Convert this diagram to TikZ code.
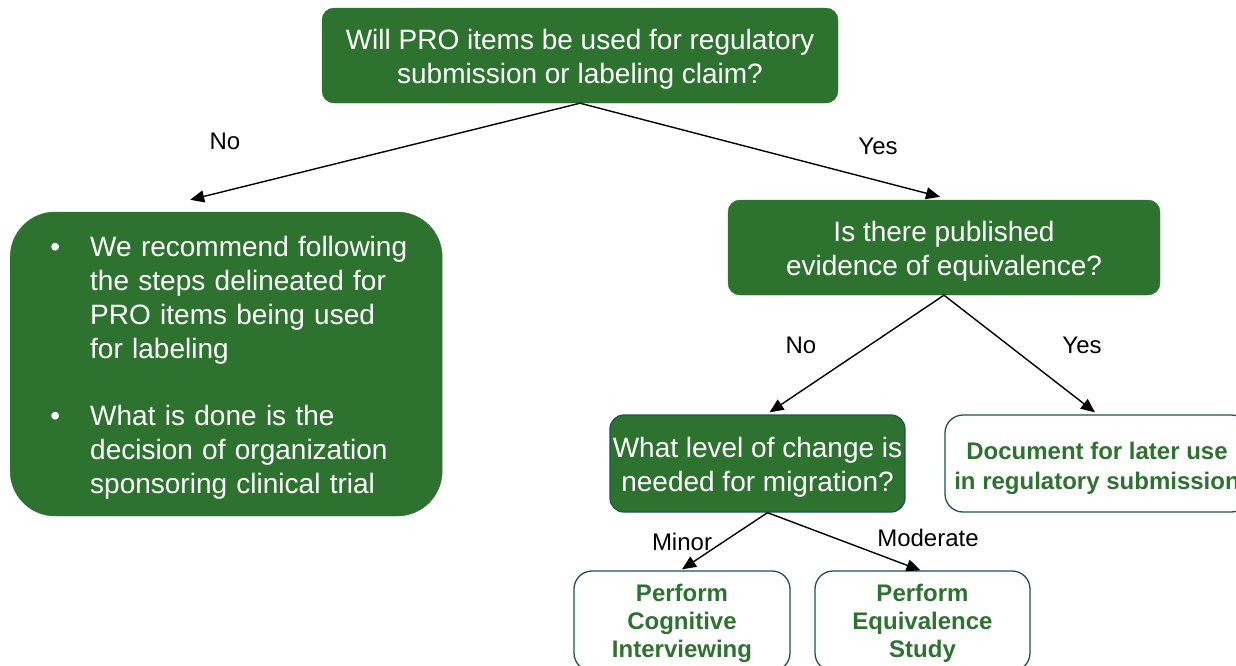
\documentclass[tikz,border=0pt]{standalone}
\usepackage{fontspec}
\setmainfont{Liberation Sans}
\usetikzlibrary{arrows.meta}

\definecolor{boxgreen}{RGB}{46,114,48}
\definecolor{boxedge}{RGB}{30,82,86}

% taller first line, pushes box text down a bit
\newcommand{\topstrut}{\rule{0pt}{27pt}}

\begin{document}
\begin{tikzpicture}[x=1pt, y=-1pt, line cap=round, line join=round]
  \tikzset{
    question/.style={fill=boxgreen, draw=boxgreen, text=white, rounded corners=12pt,
      align=center, inner sep=0pt, font=\fontsize{28}{34}\selectfont},
    outcome/.style={fill=white, draw=boxedge, line width=1.3pt, text=boxgreen,
      rounded corners=18pt, align=center, inner sep=0pt, font=\fontsize{24}{28}\selectfont\bfseries},
    flow/.style={line width=1.4pt, -{Triangle[length=14pt, width=12pt]}, draw=black},
    answer/.style={font=\fontsize{24}{28}\selectfont, inner sep=0pt}
  }
  \useasboundingbox (0,0) rectangle (1236,665);

  % first question
  \node[question, minimum width=516, minimum height=95] (claim) at (580,55.5)
    {\topstrut Will PRO items be used for regulatory\\submission or labeling claim?};

  % no claim: advice
  \node[question, anchor=west, rounded corners=45pt, minimum width=432, minimum height=304,
    text width=342, inner xsep=45pt, align=left] (recom) at (10,364) {%
    \begin{list}{\textbullet}{\setlength\leftmargin{35pt}\setlength\labelsep{30pt}%
      \setlength\labelwidth{10pt}\setlength\rightmargin{-30pt}\setlength\itemsep{33pt}%
      \setlength\topsep{0pt}\setlength\partopsep{0pt}\setlength\parsep{0pt}}
    \item We recommend following\\the steps delineated for\\PRO items being used\\for labeling
    \item What is done is the\\decision of organization\\sponsoring clinical trial
    \end{list}\par\vspace{7pt}};

  % claim: equivalence
  \node[question, minimum width=432, minimum height=95] (equiv) at (944,247.5)
    {\topstrut Is there published\\evidence of equivalence?};
  \node[question, draw=boxedge, line width=1.3pt, rounded corners=14pt,
    minimum width=295, minimum height=97] (change) at (757.5,463.5)
    {\topstrut What level of change is\\needed for migration?};
  \node[outcome, minimum width=304, minimum height=97, font=\fontsize{24}{30}\selectfont\bfseries]
    (doc) at (1097,463.5)
    {\topstrut Document for later use\\in regulatory submission};

  % migration outcomes
  \node[outcome, minimum width=216, minimum height=100] (cog) at (682,621)
    {\rule{0pt}{22pt}Perform\\Cognitive\\Interviewing};
  \node[outcome, minimum width=215, minimum height=100] (study) at (922.5,621)
    {\rule{0pt}{22pt}Perform\\Equivalence\\Study};

  % connectors
  \draw[flow] (claim.south) -- ([xshift=-36pt, yshift=12pt]recom.north);
  \draw[flow] (claim.south) -- ([xshift=-4pt, yshift=3pt]equiv.north);
  \draw[flow] (equiv.south) -- ([xshift=12pt, yshift=2pt]change.north);
  \draw[flow] (equiv.south) -- ([xshift=-2pt, yshift=2pt]doc.north);
  \draw[flow] ([xshift=10pt]change.south) -- ([yshift=1pt]cog.north);
  \draw[flow] ([xshift=10pt]change.south) -- ([xshift=-2pt]study.north);

  % answers
  \node[answer] (noclaim) at (225,141) {No};
  \node[answer] (yesclaim) at (878,146) {Yes};
  \node[answer] (noequiv) at (801,345) {No};
  \node[answer] (yesequiv) at (1082,345) {Yes};
  \node[answer] (minor) at (682,542) {Minor};
  \node[answer] (moderate) at (928,538) {Moderate};
\end{tikzpicture}
\end{document}
